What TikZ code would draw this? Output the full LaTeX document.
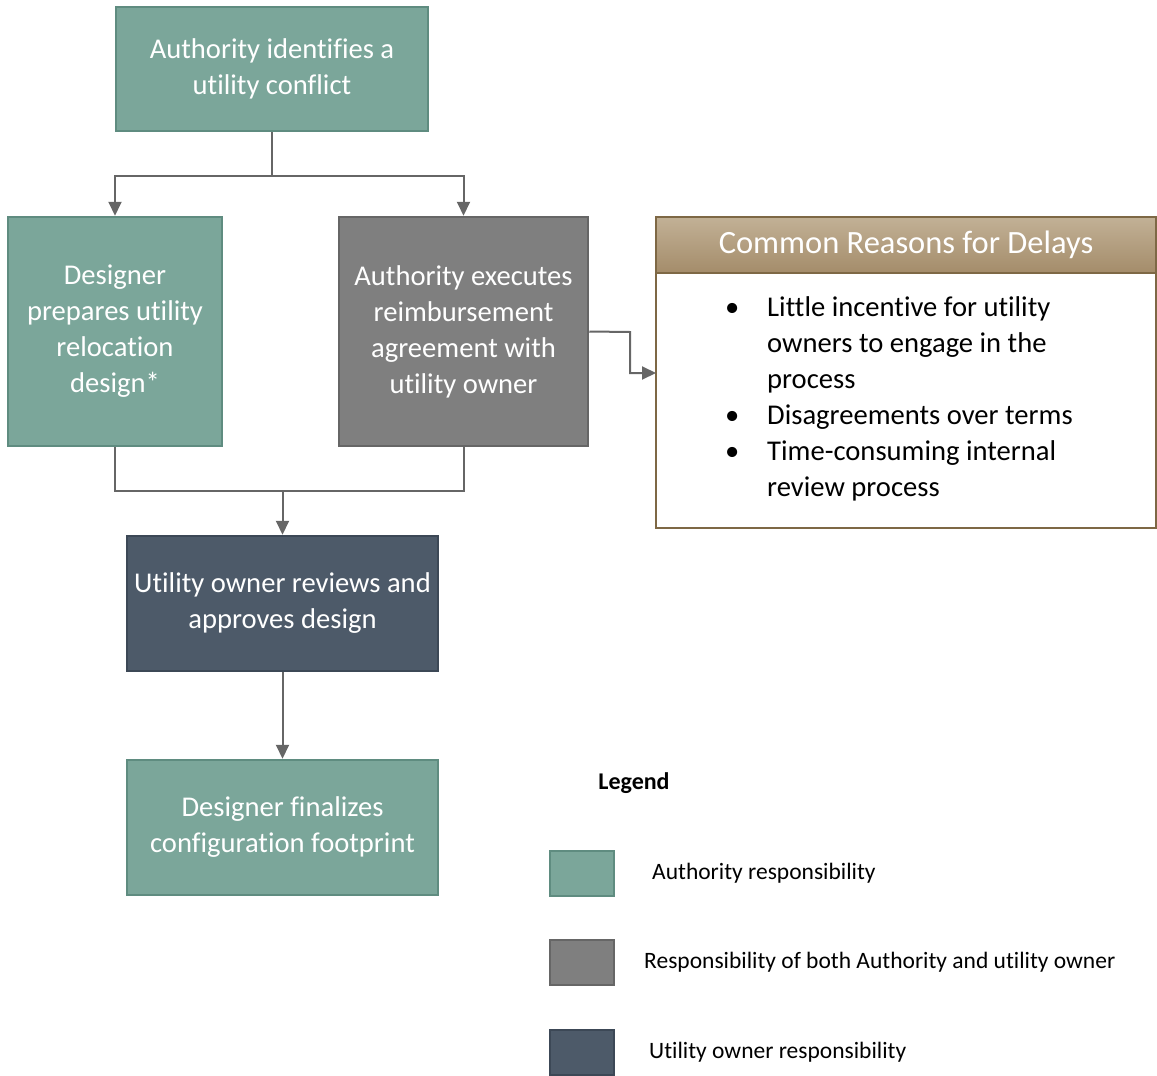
\documentclass[tikz,border=0pt]{standalone}
\usepackage{fontspec}
\setmainfont[Ligatures=NoCommon]{Carlito}
\usetikzlibrary{arrows.meta}

\definecolor{authfill}{HTML}{7BA69A}
\definecolor{authline}{HTML}{5F8C80}
\definecolor{bothfill}{HTML}{7F7F7F}
\definecolor{bothline}{HTML}{666666}
\definecolor{ownerfill}{HTML}{4D5A69}
\definecolor{ownerline}{HTML}{3C4856}
\definecolor{headtop}{HTML}{C2B196}
\definecolor{headbot}{HTML}{A48C6A}
\definecolor{headline}{HTML}{7E6845}
\definecolor{connline}{HTML}{666666}

\tikzset{box/.style={draw, line width=2.5pt, text=white, align=center, font=\fontsize{28.6}{36}\selectfont, inner sep=0pt}}
\tikzset{authority/.style={box, fill=authfill, draw=authline}}
\tikzset{both/.style={box, fill=bothfill, draw=bothline}}
\tikzset{owner/.style={box, fill=ownerfill, draw=ownerline}}
\tikzset{conn/.style={draw=connline, line width=2pt, -{Triangle[length=14pt,width=13pt]}}}
\tikzset{plain/.style={draw=connline, line width=2pt}}
\tikzset{legtext/.style={anchor=west, font=\fontsize{23.5}{26}\selectfont, inner sep=0pt}}

\begin{document}
\begin{tikzpicture}[x=1pt, y=-1pt]
  \useasboundingbox (0,0) rectangle (1157,1076);
  % process boxes
  \node[authority, minimum width=312pt, minimum height=124pt] (conflict) at (272,69) {Authority identifies a\\ utility conflict};
  \node[authority, minimum width=214pt, minimum height=229pt] (relocation) at (115,331.5) {Designer\\ prepares utility\\ relocation\\ design*};
  \node[both, minimum width=249pt, minimum height=229pt] (reimburse) at (463.5,331.5) {Authority executes\\ reimbursement\\ agreement with\\ utility owner};
  \node[owner, minimum width=311pt, minimum height=135pt] (review) at (282.5,603.5) {Utility owner reviews and\\ approves design};
  \node[authority, minimum width=311pt, minimum height=135pt] (finalize) at (282.5,827.5) {Designer finalizes\\ configuration footprint};

  % delays
  \node[draw=headline, line width=2.5pt, top color=headtop, bottom color=headbot, text=white, minimum width=500pt, minimum height=56pt, inner sep=0pt, font=\fontsize{32.5}{36}\selectfont] (delayhead) at (906,245) {Common Reasons for Delays};
  \node[draw=headline, line width=2.5pt, fill=white, minimum width=500pt, minimum height=255pt, inner sep=0pt] (delaybody) at (906,400.5) {};
  \node[anchor=north west, inner sep=0pt, align=left, font=\fontsize{28.6}{36}\selectfont] (reasons) at (725,296) {%
    \makebox[42pt][l]{\textbullet}Little incentive for utility\\
    \hspace*{42pt}owners to engage in the\\
    \hspace*{42pt}process\\
    \makebox[42pt][l]{\textbullet}Disagreements over terms\\
    \makebox[42pt][l]{\textbullet}Time-consuming internal\\
    \hspace*{42pt}review process};

  % connectors
  \coordinate (split) at (272,176);
  \coordinate (join) at (282.5,491);
  \coordinate (bend) at (630,332);
  \coordinate (delayin) at (656,373);
  \draw[plain] (conflict.south) -- (split);
  \draw[conn] (split) -| (relocation.north);
  \draw[conn] (split) -| (reimburse.north);
  \draw[plain] (relocation.south) |- (join);
  \draw[plain] (reimburse.south) |- (join);
  \draw[conn] (join) -- (review.north);
  \draw[conn] (review.south) -- (finalize.north);
  \draw[conn] (reimburse.east) -- (bend) |- (delayin);

  % legend
  \node[font=\fontsize{24}{26}\selectfont\bfseries] (legend) at (634,783) {Legend};
  \node[authority, minimum width=64pt, minimum height=45pt] (keyauth) at (582,873.5) {};
  \node[both, minimum width=64pt, minimum height=45pt] (keyboth) at (582,962.5) {};
  \node[owner, minimum width=64pt, minimum height=45pt] (keyowner) at (582,1052.5) {};
  \node[legtext] (legauth) at (652,873.5) {Authority responsibility};
  \node[legtext] (legboth) at (644,962.5) {Responsibility of both Authority and utility owner};
  \node[legtext] (legowner) at (649,1052.5) {Utility owner responsibility};
\end{tikzpicture}
\end{document}
